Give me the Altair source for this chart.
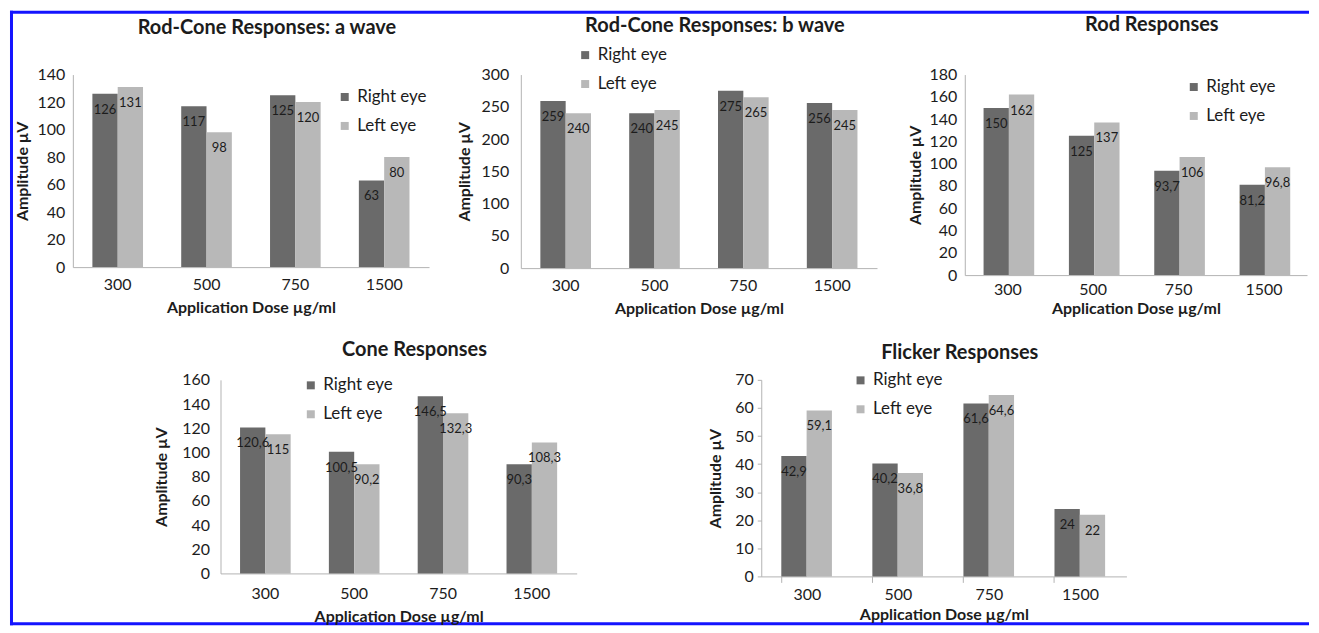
import altair as alt
import pandas as pd

doses = ["300", "500", "750", "1500"]
eyes = ["Right eye", "Left eye"]
eye_colors = ["#6a6a6a", "#b8b8b8"]

titles = ["Rod-Cone Responses: a wave", "Rod-Cone Responses: b wave",
          "Rod Responses", "Cone Responses", "Flicker Responses"]

a_right = [126, 117, 125, 63]
a_left = [131, 98, 120, 80]
b_right = [259, 240, 275, 256]
b_left = [240, 245, 265, 245]
rod_right = [150, 125, 93.7, 81.2]
rod_left = [162, 137, 106, 96.8]
cone_right = [120.6, 100.5, 146.5, 90.3]
cone_left = [115, 90.2, 132.3, 108.3]
flick_right = [42.9, 40.2, 61.6, 24]
flick_left = [59.1, 36.8, 64.6, 22]

ticks_a = [0, 20, 40, 60, 80, 100, 120, 140]
ticks_b = [0, 50, 100, 150, 200, 250, 300]
ticks_rod = [0, 20, 40, 60, 80, 100, 120, 140, 160, 180]
ticks_cone = [0, 20, 40, 60, 80, 100, 120, 140, 160]
ticks_flick = [0, 10, 20, 30, 40, 50, 60, 70]

FONT = "Lato"
TXT = "#1c1c1c"
AXC = "#b3b3b3"


def fmt(v):
    return f"{v:g}".replace(".", ",")


def make_df(right, left):
    rows = []
    for d, r, l in zip(doses, right, left):
        rows.append({"dose": d, "eye": eyes[0], "value": r, "label": fmt(r)})
        rows.append({"dose": d, "eye": eyes[1], "value": l, "label": fmt(l)})
    return pd.DataFrame(rows)


def panel(right, left, title, yticks, w, h, lx, ly, toff,
          ylp, ytp, xlp, xtp, xticks=False, yt=False):
    df = make_df(right, left)
    base = alt.Chart(df).encode(
        x=alt.X("dose:N", sort=doses,
                scale=alt.Scale(paddingInner=0.43, paddingOuter=0.22),
                axis=alt.Axis(labelAngle=0, title="Application Dose µg/ml",
                              ticks=xticks, tickSize=6 if xticks else 0,
                              tickColor=AXC, bandPosition=0,
                              labelPadding=xlp, titlePadding=xtp,
                              domainColor=AXC)),
        xOffset=alt.XOffset("eye:N", sort=eyes,
                            scale=alt.Scale(paddingInner=0, paddingOuter=0)),
        y=alt.Y("value:Q",
                scale=alt.Scale(domain=[0, yticks[-1]], nice=False),
                axis=alt.Axis(values=yticks, grid=False, title="Amplitude µV",
                              ticks=yt, tickSize=4 if yt else 0, tickColor=AXC,
                              labelPadding=ylp, titlePadding=ytp,
                              domainColor=AXC)),
    )
    bars = base.mark_bar().encode(
        color=alt.Color("eye:N", scale=alt.Scale(domain=eyes, range=eye_colors),
                        legend=alt.Legend(title=None, orient="none",
                                          legendX=lx, legendY=ly,
                                          symbolType="square", symbolSize=64,
                                          symbolStrokeWidth=0, rowPadding=11,
                                          labelFontSize=17, labelFont=FONT,
                                          labelColor=TXT, labelOffset=4,
                                          padding=0))
    )
    labels = base.mark_text(dy=16, fontSize=13, font=FONT, color=TXT).encode(
        text="label:N")
    return alt.layer(bars, labels).properties(
        width=w, height=h,
        title=alt.TitleParams(title, font=FONT, fontSize=20, fontWeight="bold",
                              color=TXT, anchor="middle", frame="group",
                              dx=16, offset=toff))


def spacer(w, h=1):
    return alt.Chart(pd.DataFrame({"s": [0]})).mark_point(opacity=0).properties(
        width=w, height=h)


# decorative blue frame around the figure (inside a spacer cell)
one = pd.DataFrame({"f": [0]})
frame_color = "#1414ff"
frame_top = alt.Chart(one).mark_rule(color=frame_color, strokeWidth=3).encode(
    x=alt.value(-440), x2=alt.value(862), y=alt.value(-62.5))
frame_left = alt.Chart(one).mark_rule(color=frame_color, strokeWidth=3).encode(
    x=alt.value(-438.5), y=alt.value(-64), y2=alt.value(552))
frame_bottom = alt.Chart(one).mark_rule(color=frame_color, strokeWidth=3).encode(
    x=alt.value(-440), x2=alt.value(862), y=alt.value(550.5))
spM = alt.layer(frame_top, frame_left, frame_bottom).properties(width=52, height=1)

p1 = panel(a_right, a_left, titles[0], ticks_a, 357, 193, 264, 14, 29, 8, 7, 9, 7)
p2 = panel(b_right, b_left, titles[1], ticks_b, 357, 194, 56, -28, 11, 12, 9, 9, 7)
p3 = panel(rod_right, rod_left, titles[2], ticks_rod, 343, 201, 221, 4, 32, 8, 6, 6, 3)
p4 = panel(cone_right, cone_left, titles[3], ticks_cone, 357, 194, 82, -3, 12, 11, 12, 12, 7)
p5 = panel(flick_right, flick_left, titles[4], ticks_flick, 366, 197, 91, -8, 9,
           4, 11, 4, 4, xticks=True, yt=True)


def indep(c):
    return c.resolve_scale(color="independent").resolve_legend(color="independent")


row1 = indep(alt.hconcat(p1, spM, p2, spacer(48), p3, spacing=20, bounds="flush"))
row2 = indep(alt.hconcat(spacer(128), p4, spacer(145), p5, spacing=20, bounds="flush"))

chart = indep(alt.vconcat(row1, row2, spacing=306, bounds="flush")).properties(
    padding=0
).configure_view(strokeWidth=0).configure_axis(
    labelFont=FONT, labelFontSize=16, labelColor=TXT,
    titleFont=FONT, titleFontSize=16, titleFontWeight="bold", titleColor=TXT,
)

chart.save("out.html", embed_options={"renderer": "svg", "actions": False})
